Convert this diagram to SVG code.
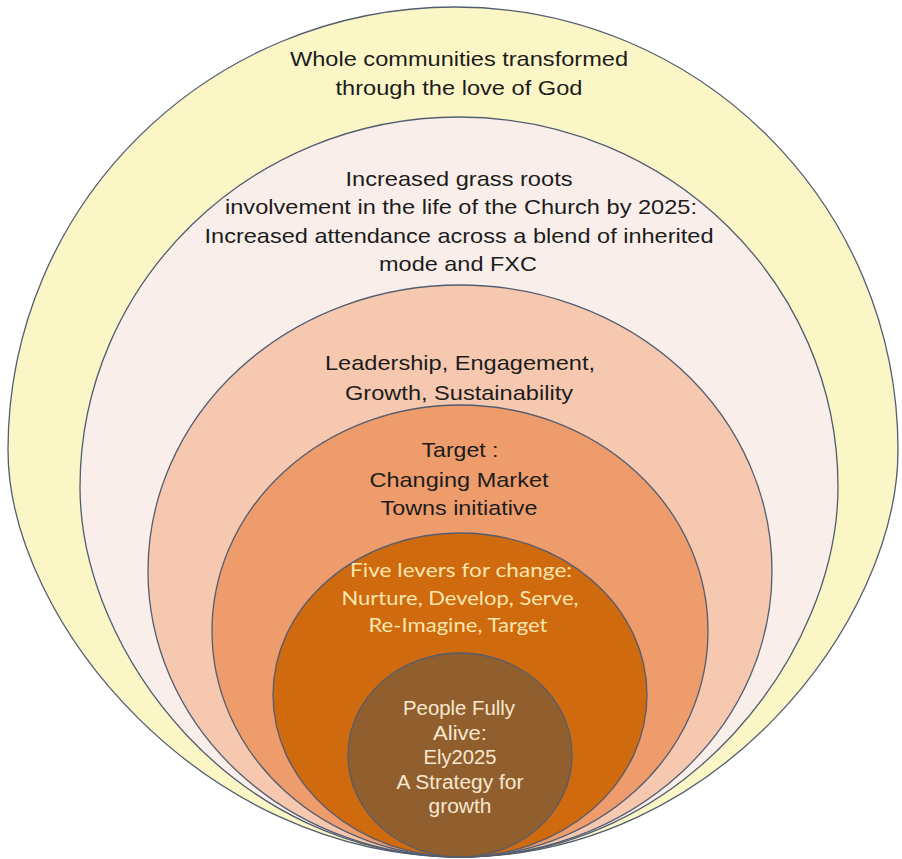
<svg xmlns="http://www.w3.org/2000/svg" width="902" height="859" viewBox="0 0 902 859">
<style>
.ring{stroke:#535d70;stroke-width:1.3}
.t{font-family:"Liberation Sans",Arial,sans-serif;font-size:21px;fill:#1c1c1c;text-anchor:middle}
.c{font-family:Lato,"Open Sans",sans-serif;font-size:20px;fill:#fbe6ad;text-anchor:middle}
.w{font-family:"Liberation Sans",Arial,sans-serif;font-size:19.5px;fill:#f7e8cf;text-anchor:middle}
</style>
<rect width="902" height="859" fill="#ffffff"/>
<g id="n1">
<path class="ring" d="M460 857 C203 857 8 621 8 450 C8 205 208 7 455 7 C700 7 898 205 898 450 C898 621 717 857 460 857 Z" fill="#fbf6c6"/>
<text class="t" x="459" y="66" textLength="338" lengthAdjust="spacingAndGlyphs">Whole communities transformed</text>
<text class="t" x="459" y="95" textLength="247" lengthAdjust="spacingAndGlyphs">through the love of God</text>
</g>
<g id="n2">
<path class="ring" d="M460 857 C236 857 80 653.5 80 487 C80 283 250 117 459 117 C668 117 838 283 838 487 C838 653.5 684 857 460 857 Z" fill="#f9eeea"/>
<text class="t" x="459" y="186" textLength="227" lengthAdjust="spacingAndGlyphs">Increased grass roots</text>
<text class="t" x="461" y="214" textLength="472" lengthAdjust="spacingAndGlyphs">involvement in the life of the Church by 2025:</text>
<text class="t" x="459" y="243" textLength="509" lengthAdjust="spacingAndGlyphs">Increased attendance across a blend of inherited</text>
<text class="t" x="458" y="271" textLength="158" lengthAdjust="spacingAndGlyphs">mode and FXC</text>
</g>
<g id="n3">
<ellipse class="ring" cx="460" cy="571" rx="312" ry="286" fill="#f5c8af"/>
<text class="t" x="460" y="370" textLength="270" lengthAdjust="spacingAndGlyphs">Leadership, Engagement,</text>
<text class="t" x="459" y="400" textLength="228" lengthAdjust="spacingAndGlyphs">Growth, Sustainability</text>
</g>
<g id="n4">
<ellipse class="ring" cx="460" cy="631" rx="248" ry="226" fill="#ee9c6c"/>
<text class="t" x="460" y="457" textLength="77" lengthAdjust="spacingAndGlyphs">Target :</text>
<text class="t" x="459" y="487" textLength="179" lengthAdjust="spacingAndGlyphs">Changing Market</text>
<text class="t" x="459" y="515" textLength="157" lengthAdjust="spacingAndGlyphs">Towns initiative</text>
</g>
<g id="n5">
<ellipse class="ring" cx="460" cy="695" rx="187" ry="162" fill="#cf6a0f"/>
<text class="c" x="461" y="577" textLength="222" lengthAdjust="spacingAndGlyphs">Five levers for change:</text>
<text class="c" x="460" y="605" textLength="237" lengthAdjust="spacingAndGlyphs">Nurture, Develop, Serve,</text>
<text class="c" x="458" y="632" textLength="179" lengthAdjust="spacingAndGlyphs">Re-Imagine, Target</text>
</g>
<g id="n6">
<ellipse class="ring" cx="460" cy="755" rx="112" ry="102" fill="#915f2e"/>
<text class="w" x="459" y="715" textLength="112" lengthAdjust="spacingAndGlyphs">People Fully</text>
<text class="w" x="460" y="740" textLength="54" lengthAdjust="spacingAndGlyphs">Alive:</text>
<text class="w" x="460" y="764" textLength="73" lengthAdjust="spacingAndGlyphs">Ely2025</text>
<text class="w" x="460" y="789" textLength="127" lengthAdjust="spacingAndGlyphs">A Strategy for</text>
<text class="w" x="460" y="813" textLength="63" lengthAdjust="spacingAndGlyphs">growth</text>
</g>
<g id="connectors"></g>
</svg>
